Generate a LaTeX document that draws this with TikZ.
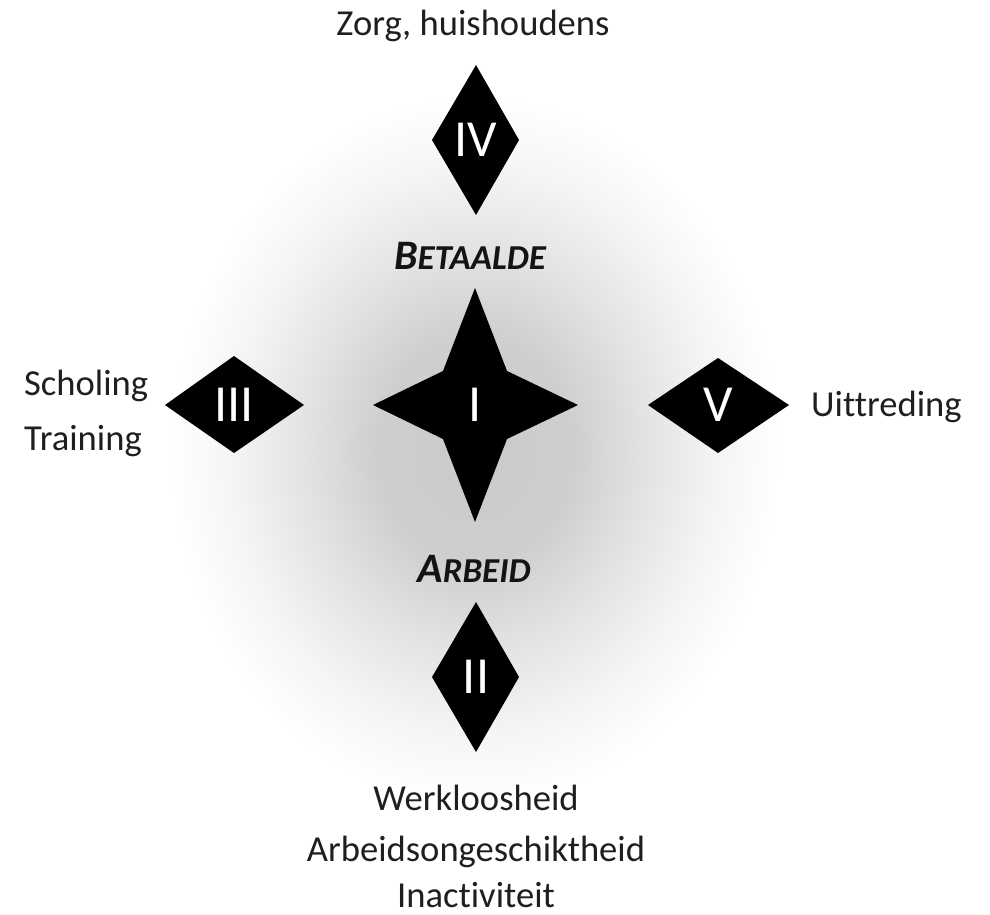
\documentclass[tikz,border=0pt]{standalone}
\usepackage{fontspec}
\setmainfont{Carlito}[Ligatures=NoCommon]
% soft grey halo behind the central star (25bp = edge of the shaded path)
\pgfdeclareradialshading{glow}{\pgfpoint{0bp}{0bp}}{%
  color(0bp)=(black!21); color(8bp)=(black!19); color(14bp)=(black!11);
  color(20bp)=(black!4); color(25bp)=(white); color(50bp)=(white)}
\tikzset{
  caption/.style={font=\fontsize{36.6}{43}\selectfont, text=black!88, inner sep=0pt, anchor=base},
  numeral/.style={font=\fontsize{52}{60}\selectfont, text=white, inner sep=0pt},
  axislabel/.style={font=\bfseries\itshape, text=black!92, inner sep=0pt, anchor=base},
  badge/.style={fill=black}
}
\newcommand{\capbig}[1]{{\fontsize{42}{48}\selectfont #1}}
\newcommand{\capsmall}[1]{{\fontsize{35}{42}\selectfont #1}}
\begin{document}
\begin{tikzpicture}[x=1pt,y=-1pt]
\useasboundingbox (0,0) rectangle (990,915);
\shade[shading=glow] (475,450) ellipse (305 and 355);

% central four-pointed star
\fill[badge] (475,288) -- (507,371) -- (578,405) -- (507,439) -- (475,522)
  -- (443,439) -- (373,405) -- (443,371) -- cycle;
\node[numeral] (n1) at (475,405) {I};

% satellite diamonds
\fill[badge] (476,65) -- (519,140) -- (476,215) -- (432,140) -- cycle;
\node[numeral] (n4) at (476,140) {IV};
\fill[badge] (476,602) -- (519,677) -- (476,752) -- (432,677) -- cycle;
\node[numeral] (n2) at (476,677) {II};
\fill[badge] (165,405) -- (234,356) -- (304,405) -- (234,453) -- cycle;
\node[numeral] (n3) at (234,405) {III};
\fill[badge] (648,405) -- (718,358) -- (789,405) -- (718,453) -- cycle;
\node[numeral] (n5) at (718,405) {V};

% axis words
\node[axislabel] (betaalde) at (470,269) {\capbig{B}\capsmall{ETAALDE}};
\node[axislabel] (arbeid) at (474,582) {\capbig{A}\capsmall{RBEID}};

% captions
\node[caption] (zorg) at (473,36) {Zorg, huishoudens};
\node[caption, anchor=base west] (scholing) at (24,395) {Scholing};
\node[caption, anchor=base west] (training) at (24,450) {Training};
\node[caption, anchor=base west] (uittreding) at (811,416) {Uittreding};
\node[caption] (werkloos) at (476,810) {Werkloosheid};
\node[caption] (ongeschikt) at (476,861) {Arbeidsongeschiktheid};
\node[caption] (inactief) at (476,907) {Inactiviteit};
\end{tikzpicture}
\end{document}
